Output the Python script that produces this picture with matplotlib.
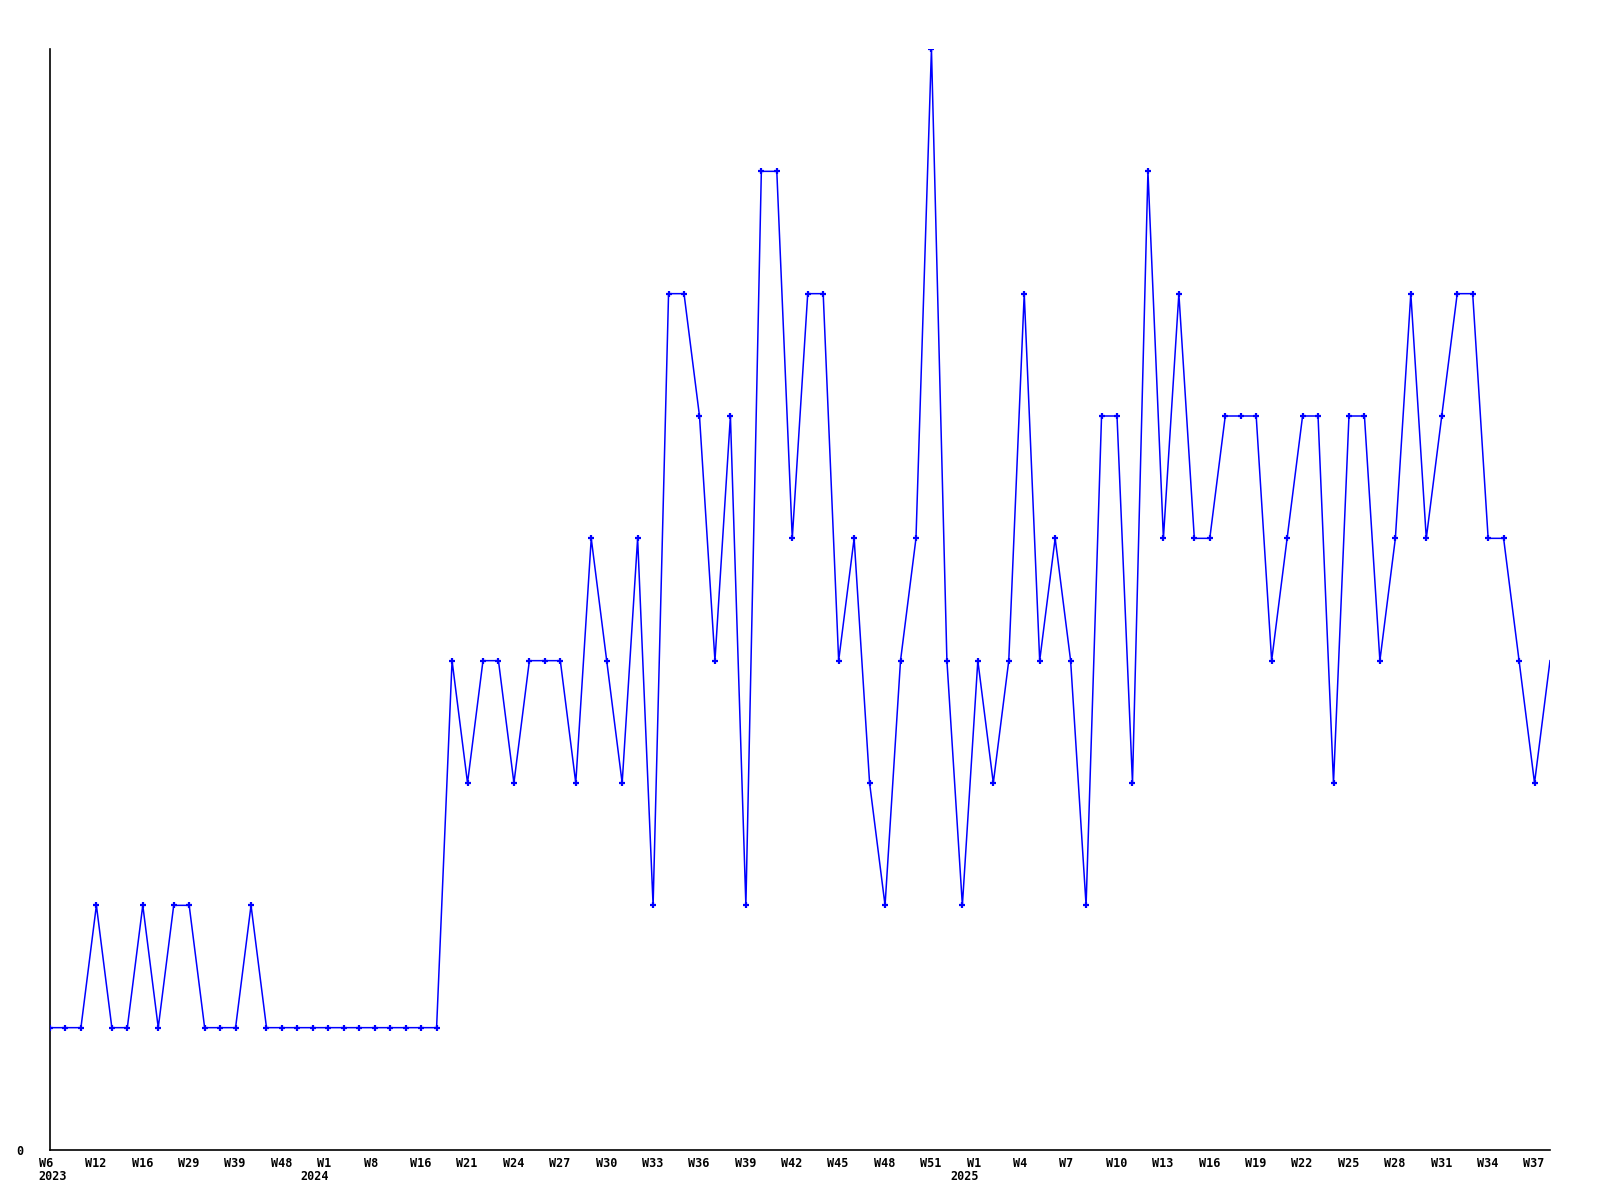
import numpy as np
import matplotlib
matplotlib.use("Agg")
import matplotlib.pyplot as plt
import matplotlib.transforms as mtrans

# Werte pro Datenpunkt (ein Punkt je Eintrag, nicht lueckenlos je Woche)
werte = [1, 1, 1, 2, 1, 1, 2, 1, 2, 2, 1, 1, 1, 2, 1, 1, 1, 1, 1, 1,
         1, 1, 1, 1, 1, 1, 4, 3, 4, 4, 3, 4, 4, 4, 3, 5, 4, 3, 5, 2,
         7, 7, 6, 4, 6, 2, 8, 8, 5, 7, 7, 4, 5, 3, 2, 4, 5, 9, 4, 2,
         4, 3, 4, 7, 4, 5, 4, 2, 6, 6, 3, 8, 5, 7, 5, 5, 6, 6, 6, 4,
         5, 6, 6, 3, 6, 6, 4, 5, 7, 5, 6, 7, 7, 5, 5, 4, 3, 4]

# Beschriftung jeder dritten Position
wochen = ["W6", "W12", "W16", "W29", "W39", "W48", "W1", "W8", "W16", "W21",
          "W24", "W27", "W30", "W33", "W36", "W39", "W42", "W45", "W48", "W51",
          "W1", "W4", "W7", "W10", "W13", "W16", "W19", "W22", "W25", "W28",
          "W31", "W34", "W37"]
jahre = ["2023", "2024", "2025"]
jahr_idx = [0, 18, 60]

x = np.arange(len(werte))
y = np.array(werte)

fig = plt.figure(figsize=(16, 12), dpi=100)
ax = fig.add_axes([50/1600, 50/1200, 1500/1600, 1101/1200])

ax.plot(x, y, color="#0000ff", lw=1.1, zorder=2)
ax.plot(x[:-1], y[:-1], ls="none", marker="+", ms=5, mew=1.6,
        color="#0000ff", zorder=3)

ax.set_xlim(0, len(werte) - 1)
ax.set_ylim(0, max(werte))

schrift = dict(family="DejaVu Sans Mono", weight="bold", fontsize=8.5)

ax.set_xticks(x[::3])
ax.set_xticklabels([])
ax.set_yticks([0])
ax.set_yticklabels(["0"], **schrift)
ax.tick_params(axis="x", length=0)
ax.tick_params(axis="y", length=0, pad=19)

trans = mtrans.blended_transform_factory(ax.transData, ax.transAxes)

# Wochen-Beschriftung, linksbuendig etwas vor dem Punkt
woff = mtrans.ScaledTranslation(-0.112, -0.07, fig.dpi_scale_trans)
for w, i in zip(wochen, x[::3]):
    ax.text(i, 0, w, ha="left", va="top", transform=trans + woff,
            clip_on=False, **schrift)

# Jahreszahlen in zweiter Zeile
for k, (j, i) in enumerate(zip(jahre, jahr_idx)):
    if k == 0:
        off = mtrans.ScaledTranslation(-0.112, -0.205, fig.dpi_scale_trans)
        ax.text(i, 0, j, ha="left", va="top", transform=trans + off, **schrift)
    else:
        off = mtrans.ScaledTranslation(0.01, -0.205, fig.dpi_scale_trans)
        ax.text(i, 0, j, ha="right", va="top", transform=trans + off, **schrift)

for s in ["top", "right"]:
    ax.spines[s].set_visible(False)
for s in ["left", "bottom"]:
    ax.spines[s].set_linewidth(1.2)
    ax.spines[s].set_color("black")

fig.savefig("out.png", dpi=100)
